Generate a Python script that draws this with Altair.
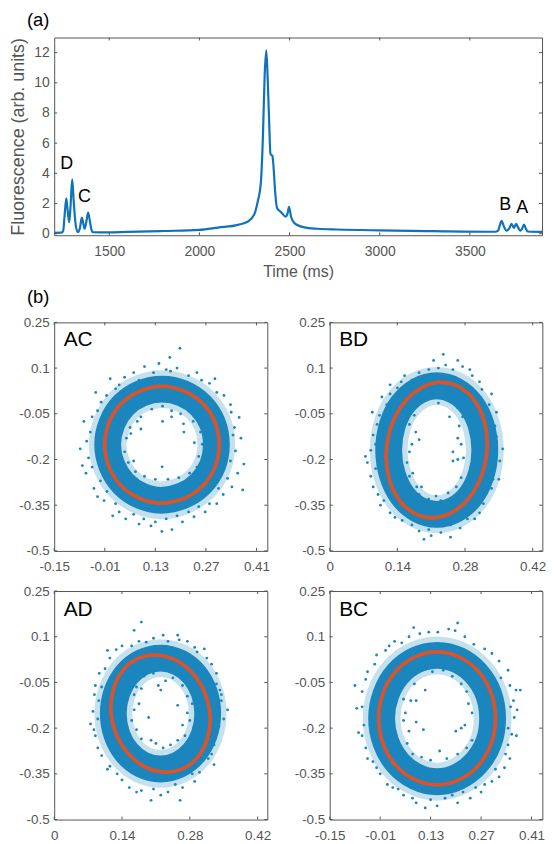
import altair as alt
import pandas as pd

trace_t = [1195,1235,1245,1252,1262,1270,1278,1286,1295,1304,1314,1326,1338,1348,1356,1364,1374,1383,1392,1400,1410,1450,1600,1800,2000,2104,2214,2269,2305,2323,2341,2352,2362,2371,2379,2387,2394,2405,2412,2420,2431,2453,2478,2489,2497,2508,2527,2582,2655,2764,3000,3300,3640,3656,3666,3676,3688,3703,3718,3731,3744,3756,3768,3780,3790,3800,3810,3820,3900]
trace_v = [0.06,0.07,0.2,1.1,2.34,1.5,0.76,1.9,3.6,2.0,0.6,0.1,0.4,1.07,0.7,0.33,0.85,1.4,0.9,0.35,0.1,0.09,0.12,0.18,0.25,0.41,0.59,0.81,1.3,2.1,3.4,6.3,10.5,12.15,10.2,7.4,5.3,5.15,4.3,2.8,1.7,1.43,1.14,1.35,1.78,1.14,0.7,0.42,0.33,0.28,0.22,0.17,0.13,0.2,0.55,0.86,0.5,0.2,0.35,0.66,0.37,0.66,0.4,0.2,0.35,0.6,0.35,0.15,0.12]

ac_x = [.307,.295,.261,.209,.149,.088,.036,.002,-.010,.002,.036,.087,.146,.209,.261,.295]
ac_y = [-.152,-.078,-.016,.025,.040,.025,-.016,-.078,-.152,-.225,-.287,-.328,-.343,-.328,-.287,-.225]
bd_x = [.326,.320,.299,.266,.2265,.186,.151,.127,.117,.123,.144,.177,.2165,.257,.292,.316]
bd_y = [-.159,-.075,-.005,.040,.053,.032,-.019,-.093,-.179,-.263,-.333,-.378,-.391,-.370,-.319,-.245]
ad_x = [.322,.312,.288,.254,.214,.175,.143,.123,.117,.127,.151,.185,.225,.264,.296,.316]
ad_y = [-.163,-.089,-.024,.021,.040,.030,-.008,-.068,-.141,-.215,-.280,-.325,-.344,-.334,-.296,-.236]
bc_x = [.310,.298,.263,.210,.148,.086,.033,-.002,-.014,-.002,.033,.086,.148,.210,.263,.298]
bc_y = [-.168,-.085,-.014,.033,.050,.033,-.014,-.085,-.168,-.251,-.322,-.369,-.386,-.369,-.322,-.251]

# centre line of the dense part of each ring of points
ac_core_x = [.299,.288,.255,.206,.149,.091,.042,.010,-.002,.010,.042,.090,.146,.206,.255,.288]
ac_core_y = [-.152,-.081,-.022,.017,.031,.017,-.022,-.081,-.152,-.221,-.280,-.319,-.334,-.319,-.280,-.221]
bd_core_x = [.321,.3135,.2925,.2595,.2215,.1835,.1505,.1295,.122,.1295,.1505,.1835,.2215,.2595,.2925,.3135]
bd_core_y = [-.169,-.088,-.020,.026,.042,.026,-.020,-.088,-.169,-.250,-.318,-.364,-.380,-.364,-.318,-.250]
ad_core_x = [.317,.3095,.2885,.257,.2195,.182,.1505,.1295,.122,.1295,.1505,.182,.2195,.257,.2885,.3095]
ad_core_y = [-.152,-.082,-.023,.016,.030,.016,-.023,-.082,-.152,-.222,-.281,-.320,-.334,-.320,-.281,-.222]
bc_core_x = [.302,.291,.257,.207,.148,.089,.039,.006,-.006,.006,.039,.089,.148,.207,.257,.291]
bc_core_y = [-.168,-.089,-.022,.023,.039,.023,-.022,-.089,-.168,-.247,-.314,-.359,-.376,-.359,-.314,-.247]

# scattered points read around the rim and inside the hole of each ring
ac_pts = [(.367,-.130),(.352,-.172),(.375,-.215),(.358,-.245),(.349,-.095),(.362,-.062),(.340,-.045),(.345,-.120),(.338,-.205),(.372,-.300),(.330,-.262),(.342,-.290),(.318,-.315),(.305,-.295),(.300,-.345),(.280,-.345),(.268,-.372),(.250,-.355),(.237,-.388),(.222,-.372),(.205,-.405),(.190,-.385),(.176,-.430),(.160,-.395),(.148,-.436),(.130,-.405),(.118,-.418),(.098,-.395),(.085,-.412),(.070,-.380),(.048,-.395),(.030,-.372),(.012,-.385),(.020,-.345),(-.012,-.335),(-.004,-.305),(-.030,-.322),(-.040,-.295),(-.022,-.270),(-.062,-.245),(-.045,-.225),(-.072,-.220),(-.055,-.195),(-.078,-.165),(-.060,-.140),(-.050,-.110),(-.068,-.075),(-.045,-.060),(-.030,-.040),(-.020,-.012),(-.035,.020),(-.005,.010),(.020,.032),(.005,.065),(.045,.070),(.030,.045),(.070,.085),(.085,.060),(.100,.105),(.125,.085),(.140,.115),(.160,.095),(.172,.090),(.190,.100),(.198,.165),(.170,.135),(.222,.075),(.245,.085),(.258,.060),(.280,.050),(.300,.020),(.320,.010),(.338,-.020),(.295,.065),
(.090,-.060),(.120,-.035),(.150,-.025),(.175,-.040),(.200,-.050),(.235,-.075),(.255,-.110),(.209,-.110),(.208,-.083),(.260,-.150),(.250,-.190),(.245,-.225),(.225,-.245),(.195,-.260),(.165,-.265),(.149,-.224),(.130,-.265),(.100,-.255),(.075,-.240),(.055,-.210),(.045,-.175),(.050,-.130),(.060,-.095),(.080,-.075),(.090,-.100),(.150,-.075),(.175,-.060),(.070,-.205),(.062,-.115),(.238,-.145)]
bd_pts = [(.345,-.125),(.358,-.165),(.352,-.205),(.340,-.230),(.342,-.090),(.330,-.055),(.345,-.140),(.338,-.265),(.350,-.265),(.325,-.310),(.335,-.295),(.318,-.345),(.300,-.395),(.310,-.375),(.285,-.395),(.270,-.425),(.250,-.415),(.250,-.455),(.230,-.440),(.210,-.450),(.195,-.462),(.205,-.430),(.185,-.435),(.170,-.415),(.150,-.400),(.135,-.390),(.125,-.375),(.112,-.335),(.100,-.315),(.105,-.350),(.090,-.290),(.085,-.255),(.095,-.230),(.078,-.210),(.085,-.170),(.074,-.190),(.095,-.150),(.090,-.120),(.098,-.085),(.088,-.045),(.103,-.055),(.118,-.020),(.108,.005),(.125,.015),(.140,.035),(.125,.045),(.155,.075),(.170,.060),(.185,.085),(.205,.095),(.215,.125),(.240,.110),(.235,.145),(.265,.125),(.275,.105),(.290,.095),(.255,.095),(.295,.075),(.310,.055),(.315,.030),(.335,.015),(.330,-.020),(.345,-.045),(.148,.055),(.225,.100),
(.175,-.020),(.200,-.005),(.225,-.015),(.250,-.005),(.265,-.030),(.275,-.060),(.268,-.090),(.265,-.130),(.272,-.150),(.277,-.195),(.265,-.200),(.255,-.205),(.272,-.260),(.262,-.290),(.245,-.310),(.230,-.335),(.205,-.330),(.185,-.315),(.180,-.290),(.165,-.255),(.172,-.245),(.160,-.210),(.165,-.175),(.170,-.150),(.185,-.135),(.178,-.110),(.165,-.085),(.175,-.055),(.160,-.050),(.255,-.175),(.190,-.290),(.220,-.320),(.248,-.060)]
ad_pts = [(.358,-.140),(.345,-.110),(.350,-.170),(.340,-.195),(.345,-.090),(.335,-.055),(.342,-.075),(.330,-.235),(.330,-.255),(.325,-.285),(.330,-.320),(.318,-.300),(.300,-.345),(.285,-.350),(.290,-.375),(.265,-.395),(.250,-.385),(.260,-.437),(.235,-.410),(.220,-.420),(.200,-.437),(.205,-.400),(.180,-.405),(.170,-.410),(.155,-.395),(.140,-.370),(.130,-.350),(.115,-.325),(.110,-.335),(.098,-.290),(.090,-.265),(.085,-.225),(.082,-.205),(.075,-.186),(.090,-.170),(.080,-.145),(.092,-.110),(.083,-.090),(.085,-.060),(.098,-.065),(.093,-.020),(.105,-.005),(.115,.030),(.110,.055),(.128,.058),(.140,.070),(.160,.070),(.175,.085),(.165,.121),(.180,.148),(.190,.082),(.205,.095),(.225,.105),(.235,.085),(.255,.105),(.258,.090),(.275,.085),(.290,.065),(.295,.050),(.310,.060),(.325,.010),(.335,-.020),(.315,.030),
(.185,-.030),(.205,-.020),(.225,-.005),(.245,-.035),(.265,-.060),(.275,-.095),(.285,-.120),(.275,-.150),(.265,-.190),(.280,-.175),(.270,-.225),(.255,-.240),(.225,-.265),(.240,-.255),(.200,-.240),(.180,-.235),(.170,-.205),(.160,-.175),(.165,-.140),(.175,-.120),(.165,-.090),(.170,-.065),(.220,-.075),(.215,-.060),(.255,-.125),(.195,-.165),(.180,-.070),(.230,-.045),(.210,-.250)]
bc_pts = [(.379,-.075),(.367,-.075),(.360,-.110),(.352,-.130),(.370,-.140),(.362,-.165),(.345,-.200),(.355,-.220),(.368,-.225),(.345,-.255),(.338,-.285),(.350,-.300),(.335,-.330),(.310,-.335),(.320,-.360),(.300,-.375),(.280,-.385),(.270,-.410),(.255,-.395),(.240,-.430),(.220,-.410),(.205,-.445),(.190,-.420),(.170,-.430),(.148,-.455),(.130,-.435),(.115,-.462),(.090,-.445),(.080,-.430),(.055,-.420),(.040,-.400),(.025,-.395),(.010,-.385),(-.010,-.350),(-.020,-.330),(-.030,-.310),(-.045,-.300),(-.050,-.265),(-.060,-.225),(-.070,-.215),(-.055,-.190),(-.075,-.135),(-.060,-.130),(-.080,-.060),(-.060,-.080),(-.050,-.040),(-.045,-.015),(-.025,.010),(-.020,.040),(.005,.055),(.015,.070),(.030,.085),(.050,.080),(.070,.100),(.083,.130),(.100,.110),(.125,.115),(.150,.115),(.180,.125),(.205,.145),(.198,.120),(.225,.100),(.250,.075),(.280,.060),(.300,.045),(.320,.020),(.345,-.010),(.325,-.035),(.350,-.060),
(.075,-.010),(.100,.000),(.135,-.015),(.165,-.010),(.190,-.030),(.215,-.055),(.230,-.080),(.235,-.120),(.245,-.150),(.225,-.190),(.215,-.200),(.245,-.240),(.230,-.265),(.205,-.285),(.175,-.300),(.155,-.275),(.130,-.305),(.105,-.295),(.080,-.285),(.065,-.250),(.070,-.210),(.055,-.175),(.060,-.150),(.055,-.105),(.075,-.110),(.085,-.055),(.090,-.110),(.090,-.180),(.110,-.205),(.200,-.210),(.115,-.075)]

y_ticks = [0.25, 0.1, -0.05, -0.2, -0.35, -0.5]
x_ticks_wide = [-0.15, -0.01, 0.13, 0.27, 0.41]
x_ticks_narrow = [0, 0.14, 0.28, 0.42]
a_x_ticks = [1500, 2000, 2500, 3000, 3500]
a_y_ticks = [0, 2, 4, 6, 8, 10, 12]

GREY = "#555555"
BLUE = "#1a86bd"
ORANGE = "#d9532b"
FONT = "Liberation Sans"


def inward_ticks(xt, yt, w, h, x_axis, y_axis, L=3):
    base = alt.Chart(pd.DataFrame({"v": xt})).mark_rule(color=GREY, strokeWidth=1)
    b = base.encode(x=alt.X("v:Q", axis=x_axis), y=alt.value(h), y2=alt.value(h - L))
    t = base.encode(x=alt.X("v:Q", axis=x_axis), y=alt.value(0), y2=alt.value(L))
    base2 = alt.Chart(pd.DataFrame({"v": yt})).mark_rule(color=GREY, strokeWidth=1)
    l = base2.encode(y=alt.Y("v:Q", axis=y_axis), x=alt.value(0), x2=alt.value(L))
    r = base2.encode(y=alt.Y("v:Q", axis=y_axis), x=alt.value(w), x2=alt.value(w - L))
    return [b, t, l, r]


def panel(ex, ey, cx, cy, pts, label, xt, xdom, tag=None, w=214, h=230, label_y=24):
    df = pd.DataFrame({"x": ex, "y": ey, "i": range(len(ex))})
    core = pd.DataFrame({"x": cx, "y": cy, "i": range(len(cx))})
    scatter = pd.DataFrame(pts, columns=["x", "y"])
    x_axis = alt.Axis(values=xt, title=None, labelExpr="'' + datum.value", grid=False, ticks=False,
                      domain=False, labelFontSize=13.5, labelColor=GREY, labelFont=FONT, labelPadding=9,
                      labelOverlap=False, labelFlush=False)
    y_axis = alt.Axis(values=y_ticks, title=None, labelExpr="'' + datum.value", grid=False, ticks=False,
                      domain=False, labelFontSize=13.5, labelColor=GREY, labelFont=FONT, labelPadding=5,
                      labelOverlap=False, labelFlush=False)
    xe = alt.X("x:Q", scale=alt.Scale(domain=xdom, nice=False, zero=False), axis=x_axis)
    ye = alt.Y("y:Q", scale=alt.Scale(domain=[-0.5, 0.25], nice=False, zero=False), axis=y_axis)
    halo = alt.Chart(core).mark_line(interpolate="cardinal-closed", color=BLUE, strokeWidth=38, opacity=0.25).encode(x=xe, y=ye, order="i:Q")
    band = alt.Chart(core).mark_line(interpolate="cardinal-closed", color=BLUE, strokeWidth=27).encode(x=xe, y=ye, order="i:Q")
    dots = alt.Chart(scatter).mark_circle(color=BLUE, size=8, opacity=1).encode(x=xe, y=ye)
    fit = alt.Chart(df).mark_line(interpolate="cardinal-closed", color=ORANGE, strokeWidth=3.8).encode(x=xe, y=ye, order="i:Q")
    txt = alt.Chart(pd.DataFrame({"t": [label]})).mark_text(fontSize=21, font=FONT, color="black", align="left", baseline="alphabetic").encode(
        text="t:N", x=alt.value(9.5), y=alt.value(label_y))
    layers = [halo, band, dots, fit, txt] + inward_ticks(xt, y_ticks, w, h, x_axis, y_axis)
    if tag is not None:
        layers.append(tag)
    return alt.layer(*layers).properties(width=w, height=h)


# panel (a)
adf = pd.DataFrame({"t": trace_t, "v": trace_v})
a_x_axis = alt.Axis(values=a_x_ticks, title="Time (ms)", titleFontSize=16, titleColor=GREY, titleFont=FONT,
                    titleFontWeight="normal", titlePadding=6, grid=False, ticks=False, domain=False, format="d",
                    labelFontSize=14, labelColor=GREY, labelFont=FONT, labelPadding=9, labelOverlap=False)
a_y_axis = alt.Axis(values=a_y_ticks, title="Fluorescence (arb. units)", titleFontSize=18, titleColor=GREY,
                    titleFont=FONT, titleFontWeight="normal", titlePadding=6.5, grid=False, ticks=False,
                    domain=False, labelFontSize=14, labelColor=GREY, labelFont=FONT, labelPadding=5, labelOverlap=False)
ax_x = alt.X("t:Q", scale=alt.Scale(domain=[1195, 3900], nice=False, zero=False), axis=a_x_axis)
ax_y = alt.Y("v:Q", scale=alt.Scale(domain=[-0.1, 13], nice=False, zero=False), axis=a_y_axis)
a_line = alt.Chart(adf).mark_line(color="#0f72bd", strokeWidth=2.2, interpolate="monotone").encode(x=ax_x, y=ax_y)
peak_labels = pd.DataFrame({"t": [1264, 1363, 3696, 3790], "v": [4.3, 2.1, 1.57, 1.35], "s": ["D", "C", "B", "A"]})
a_text = alt.Chart(peak_labels).mark_text(fontSize=18, font=FONT, color="black", baseline="alphabetic").encode(
    x=alt.X("t:Q", axis=a_x_axis), y=alt.Y("v:Q", axis=a_y_axis), text="s:N")
a_tag = alt.Chart(pd.DataFrame({"t": ["(a)"]})).mark_text(fontSize=18.5, font=FONT, color="black", align="left", baseline="alphabetic").encode(
    text="t:N", x=alt.value(-27.5), y=alt.value(-12))
a_chart = alt.layer(a_line, a_text, a_tag, *inward_ticks(a_x_ticks, a_y_ticks, 491, 199, a_x_axis, a_y_axis)).properties(width=491, height=199)

b_tag = alt.Chart(pd.DataFrame({"t": ["(b)"]})).mark_text(fontSize=18.5, font=FONT, color="black", align="left", baseline="alphabetic").encode(
    text="t:N", x=alt.value(-27.5), y=alt.value(-20))

AC = panel(ac_x, ac_y, ac_core_x, ac_core_y, ac_pts, "AC", x_ticks_wide, [-0.15, 0.44], w=214.5, tag=b_tag)
BD = panel(bd_x, bd_y, bd_core_x, bd_core_y, bd_pts, "BD", x_ticks_narrow, [0, 0.44])
AD = panel(ad_x, ad_y, ad_core_x, ad_core_y, ad_pts, "AD", x_ticks_narrow, [0, 0.44], w=214.5, label_y=25)
BC = panel(bc_x, bc_y, bc_core_x, bc_core_y, bc_pts, "BC", x_ticks_wide, [-0.15, 0.44], label_y=25)

spacer = alt.Chart(pd.DataFrame({"v": [0]})).mark_point(opacity=0).encode(x=alt.value(0)).properties(
    width=1, height=94.6, view=alt.ViewBackground(stroke="transparent"))

row1 = alt.hconcat(AC, BD, spacing=62.3).properties(bounds="flush")
row2 = alt.hconcat(AD, BC, spacing=62.3).properties(bounds="flush")
chart = alt.vconcat(a_chart, row1, spacer, row2, spacing=87.7).configure_view(stroke=GREY, strokeWidth=1).properties(
    padding={"left": 46.5, "top": 27, "right": 495, "bottom": 811}, background="white", bounds="flush",
    autosize=alt.AutoSizeParams(type="none"))
chart.save("out.html", embed_options={"renderer": "svg", "actions": False})
